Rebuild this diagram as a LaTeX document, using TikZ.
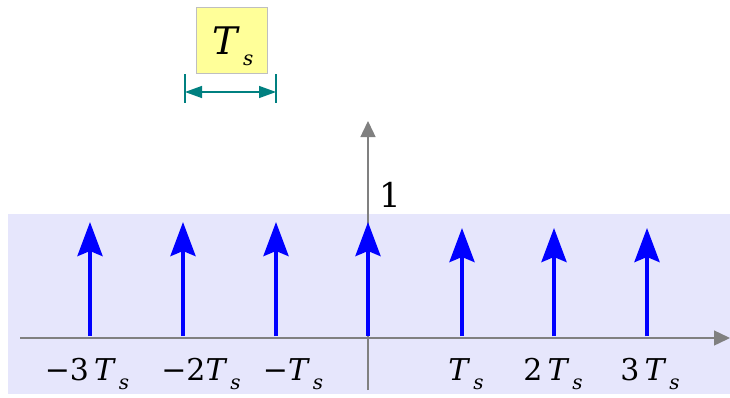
\documentclass[tikz,border=0pt]{standalone}
\usepackage{fontspec}
\setmainfont{DejaVu Serif}
\usetikzlibrary{arrows.meta, positioning}
\definecolor{bandblue}{RGB}{230,230,252}
\definecolor{pulseblue}{RGB}{0,0,255}
\definecolor{axisgray}{RGB}{128,128,128}
\definecolor{boxyellow}{RGB}{255,255,153}
\definecolor{dimteal}{RGB}{0,128,128}
\newcommand{\Tsub}{\textit{T}\hspace{3pt}\raisebox{-0.3em}{\fontsize{20}{20}\selectfont\textit{s}}}

\begin{document}
\begin{tikzpicture}[
    x=1pt, y=-1pt,
    axis/.style={-{Triangle[length=16pt, width=15pt]}, line width=1.4pt, axisgray},
    pulse/.style={-{Stealth[length=34pt, width=25pt, inset=5pt]}, line width=4pt, pulseblue},
    dim/.style={{Triangle[length=17pt, width=12pt]}-{Triangle[length=17pt, width=12pt]}, line width=1.4pt, dimteal},
    tick/.style={line width=1.4pt, dimteal},
    lbl/.style={anchor=base, inner sep=0pt, font=\fontsize{30}{30}\selectfont}
]
\useasboundingbox (0,0) rectangle (730,397);
\fill[bandblue] (8,214) rectangle (730,394);

% impulse train
\foreach \name/\x/\top in {m3/90/222, m2/183/222, m1/276/222, z/368/222,
                            p1/462/228, p2/554/228, p3/647/228} {
  \coordinate (b\name) at (\x,336);
  \coordinate (t\name) at (\x,\top);
}

% axes
\coordinate (xl) at (20,338);
\coordinate (xr) at (730,338);
\coordinate (yb) at (368,390);
\coordinate (yt) at (368,121);
\draw[axis] (yb) -- (yt);

\foreach \name in {m3,m2,m1,z,p1,p2,p3}
  \draw[pulse] (b\name) -- (t\name);

\draw[axis] (xl) -- (xr);

% labels
\node[lbl] (lm3) at (87,380) {−3\,\Tsub};
\node[lbl] (lm2) at (201,380) {−2\Tsub};
\node[lbl] (lm1) at (293,380) {−\Tsub};
\node[lbl] (lp1) at (466,380) {\Tsub};
\node[lbl] (lp2) at (553,380) {2\,\Tsub};
\node[lbl] (lp3) at (650,380) {3\,\Tsub};
\node[lbl, font=\fontsize{34}{34}\selectfont] (one) at (390,207) {1};

% period box with width marker
\node[draw=black!25, fill=boxyellow, minimum width=71pt, minimum height=66pt,
      inner sep=0pt] (period) at (232,40) {};
\node[anchor=base, inner sep=0pt, font=\fontsize{38}{38}\selectfont] (periodtxt) at (233,54) {\Tsub};
\coordinate (ta) at (185,74);
\coordinate (tb) at (185,103);
\coordinate (tc) at (276,74);
\coordinate (td) at (276,103);
\coordinate (da) at (185,92);
\coordinate (db) at (276,92);
\draw[tick] (ta) -- (tb);
\draw[tick] (tc) -- (td);
\draw[dim] (da) -- (db);
\end{tikzpicture}
\end{document}
